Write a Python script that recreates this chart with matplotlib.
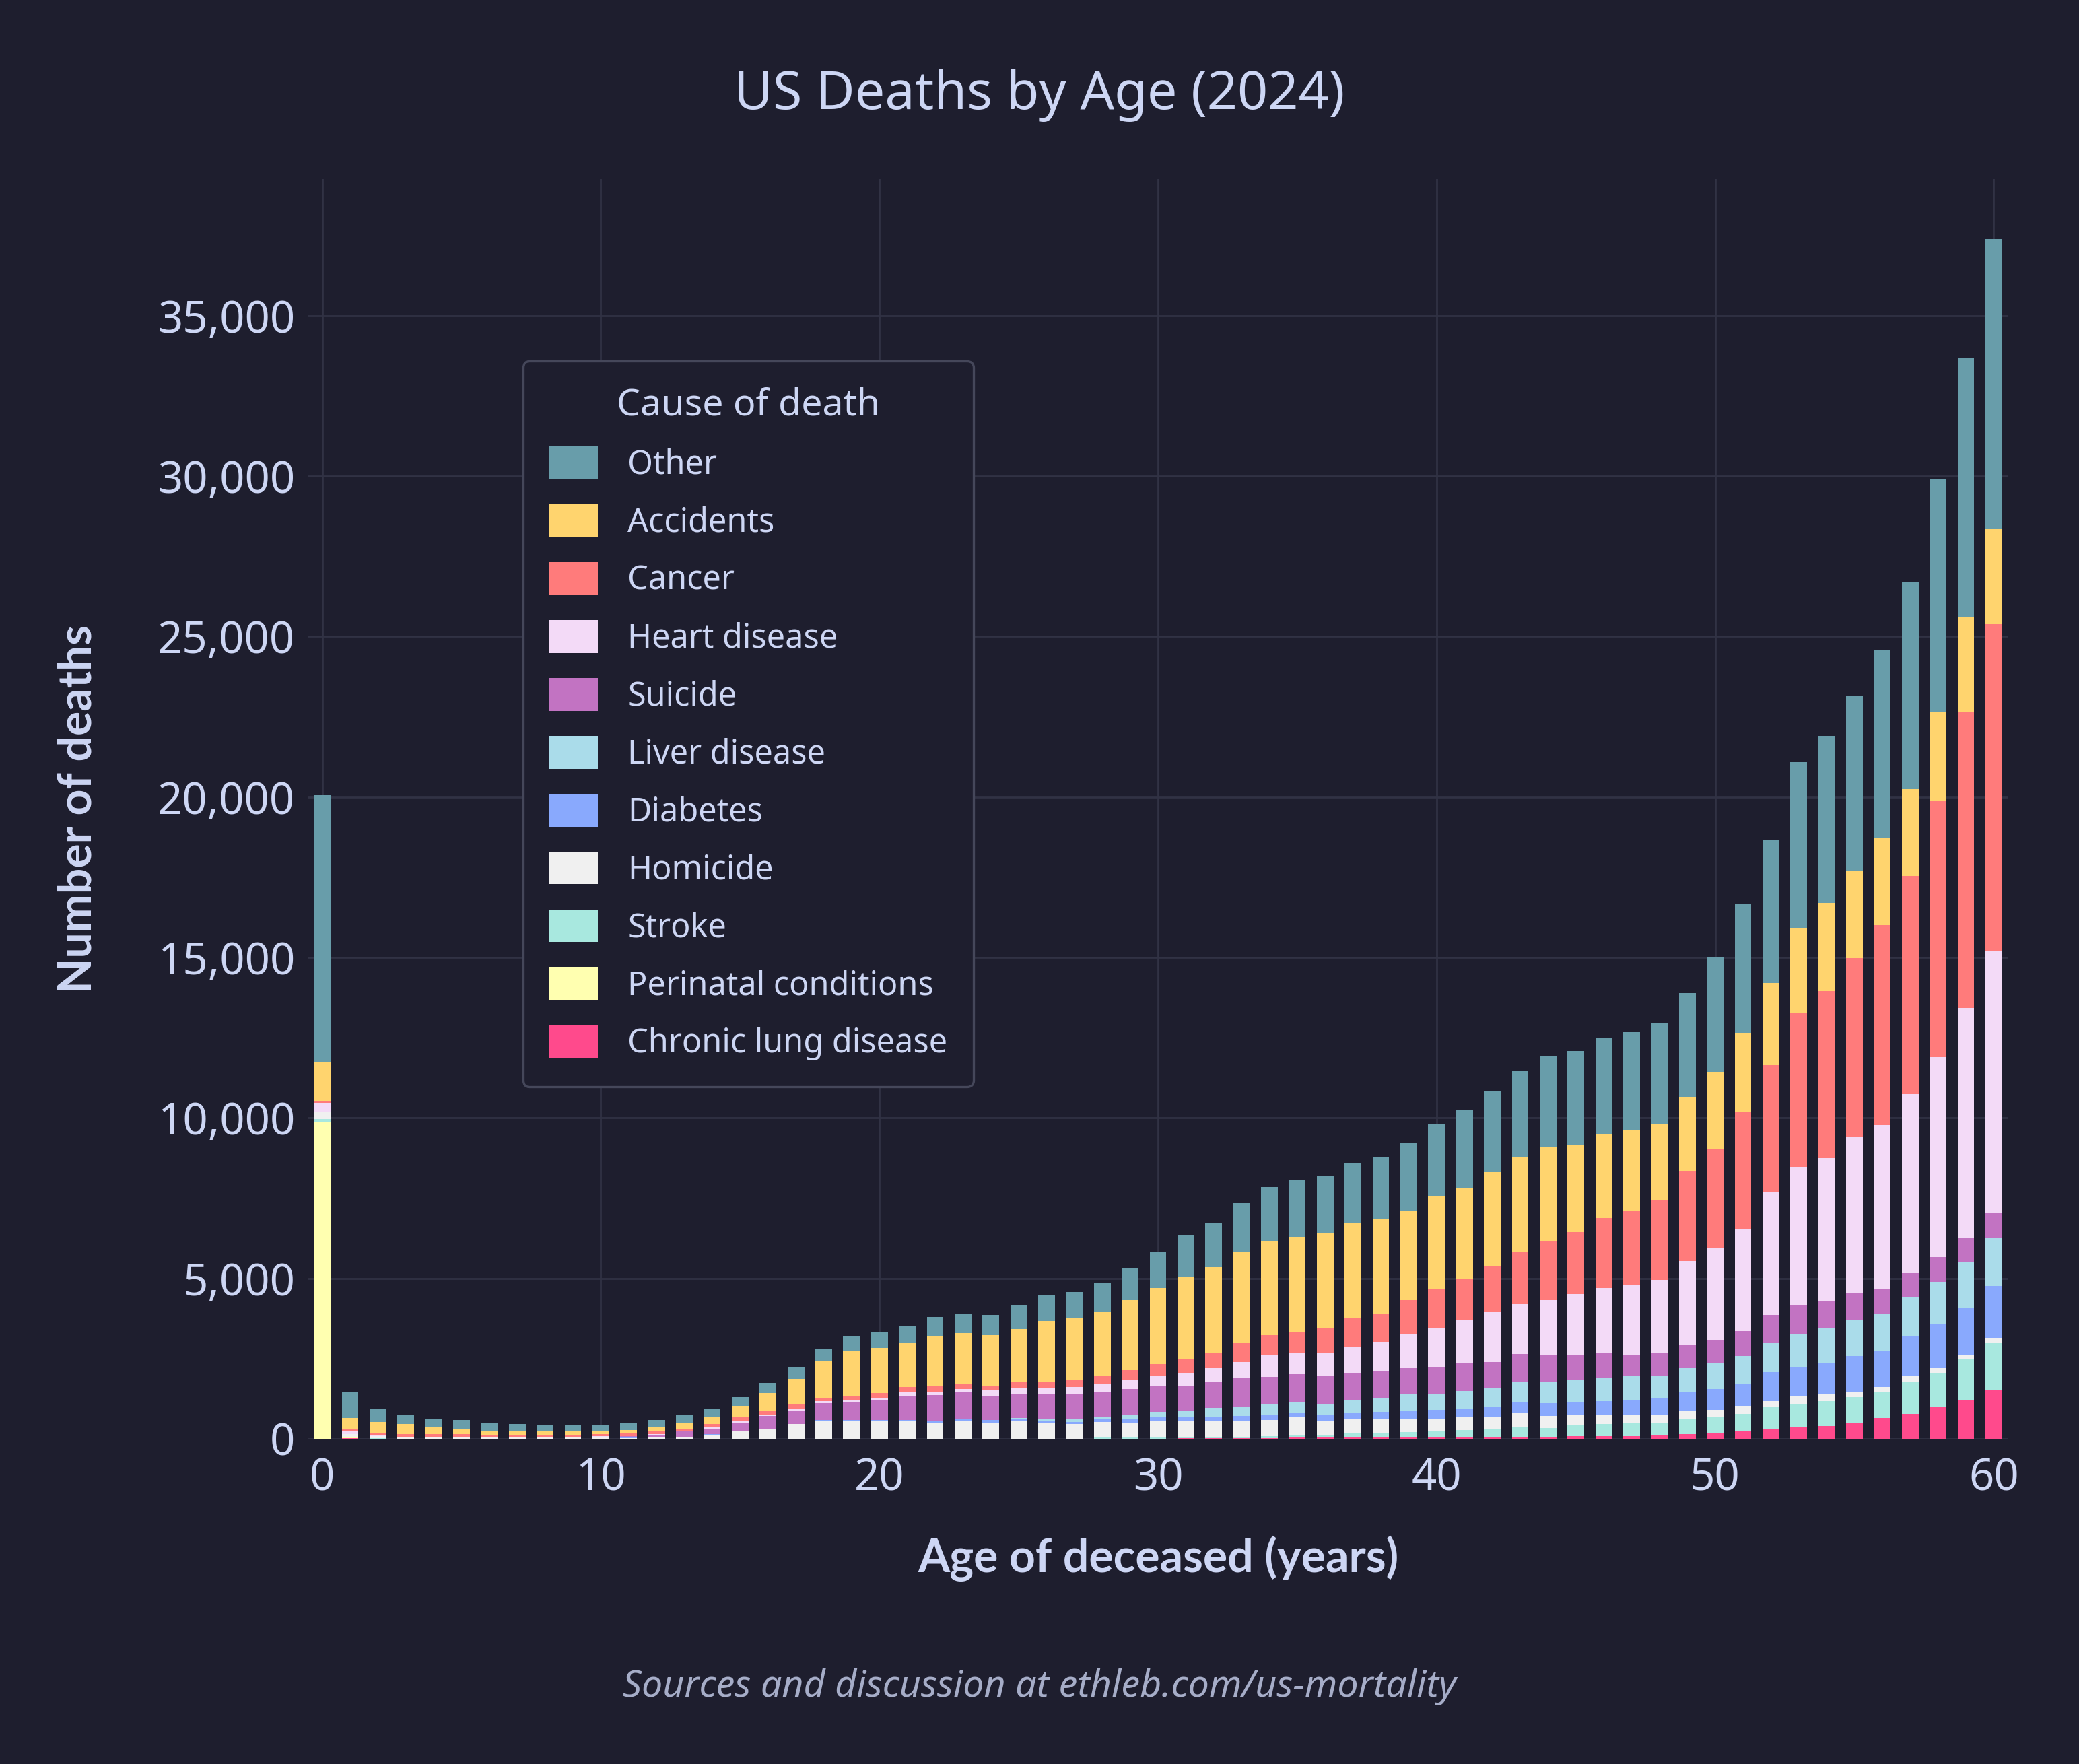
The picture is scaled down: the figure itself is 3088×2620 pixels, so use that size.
#!/usr/bin/env python3
import numpy as np
import matplotlib
matplotlib.use("Agg")
import matplotlib.pyplot as plt
import matplotlib.ticker as mtick

ages = list(range(61))

# deaths per single year of age
chronic_lung = [0, 10, 0, 0, 0, 0, 0, 0, 0, 0,
                0, 0, 0, 0, 0, 0, 0, 0, 0, 0,
                0, 0, 0, 0, 0, 0, 0, 0, 0, 0,
                0, 20, 20, 20, 20, 30, 30, 30, 40, 40,
                40, 40, 60, 60, 60, 90, 80, 80, 100, 150,
                180, 250, 300, 380, 400, 500, 650, 780, 980, 1200,
                1500]
perinatal = [9880, 20] + [0] * 59
stroke = [80, 20, 10, 0, 0, 0, 0, 0, 0, 0,
          0, 0, 0, 0, 0, 0, 0, 0, 0, 0,
          0, 0, 0, 0, 0, 0, 0, 0, 60, 40,
          40, 50, 50, 50, 70, 100, 100, 130, 130, 170,
          190, 230, 260, 300, 280, 340, 370, 400, 400, 450,
          520, 530, 680, 700, 780, 800, 800, 1000, 1050, 1280,
          1480]
homicide = [230, 100, 70, 40, 50, 30, 30, 30, 30, 30,
            30, 20, 40, 60, 120, 220, 320, 460, 560, 540,
            560, 540, 510, 560, 510, 540, 500, 460, 470, 470,
            500, 500, 500, 500, 500, 530, 410, 460, 450, 410,
            390, 390, 340, 430, 380, 310, 300, 250, 230, 250,
            200, 220, 200, 250, 200, 170, 170, 170, 180, 150,
            150]
diabetes = [0, 0, 0, 10, 0, 0, 0, 0, 0, 0,
            0, 20, 0, 0, 20, 0, 0, 0, 20, 40,
            20, 40, 40, 40, 80, 60, 60, 70, 70, 110,
            120, 100, 130, 150, 170, 140, 200, 180, 210, 230,
            270, 270, 330, 330, 380, 420, 430, 470, 520, 600,
            650, 700, 900, 900, 980, 1100, 1130, 1250, 1350, 1460,
            1630]
liver = [0, 0, 0, 0, 0, 0, 0, 0, 0, 0,
         0, 0, 0, 0, 0, 0, 0, 0, 10, 0,
         0, 0, 0, 0, 0, 40, 40, 70, 80, 120,
         170, 190, 270, 270, 310, 330, 330, 400, 430, 530,
         500, 560, 590, 640, 660, 670, 700, 750, 700, 760,
         810, 880, 900, 1050, 1100, 1130, 1150, 1230, 1330, 1420,
         1480]
suicide = [0, 0, 0, 0, 0, 0, 0, 0, 0, 0,
           40, 40, 90, 160, 180, 290, 390, 400, 520, 540,
           610, 770, 810, 840, 760, 740, 780, 780, 760, 800,
           820, 780, 820, 890, 860, 890, 890, 850, 860, 830,
           860, 860, 800, 880, 830, 780, 780, 680, 710, 720,
           720, 780, 880, 880, 830, 850, 780, 750, 780, 750,
           800]
heart = [270, 70, 30, 10, 10, 0, 0, 10, 10, 10,
         10, 10, 10, 20, 30, 50, 30, 60, 70, 90,
         80, 110, 110, 110, 150, 190, 190, 230, 260, 290,
         330, 400, 420, 510, 680, 670, 730, 820, 890, 1070,
         1220, 1330, 1570, 1560, 1740, 1890, 2030, 2180, 2280, 2610,
         2880, 3160, 3810, 4310, 4460, 4840, 5090, 5560, 6220, 7170,
         8170]
cancer = [50, 70, 60, 80, 80, 110, 80, 80, 80, 80,
          70, 70, 100, 80, 100, 120, 120, 150, 100, 120,
          150, 150, 170, 170, 150, 180, 220, 220, 270, 300,
          340, 440, 450, 590, 610, 650, 760, 900, 860, 1050,
          1210, 1280, 1450, 1620, 1830, 1930, 2180, 2310, 2480, 2810,
          3090, 3680, 3980, 4810, 5210, 5590, 6240, 6800, 8000, 9200,
          10180]
accidents = [1230, 350, 350, 320, 230, 180, 130, 120, 100, 100,
             100, 120, 130, 190, 250, 340, 560, 800, 1140, 1390,
             1400, 1390, 1540, 1580, 1570, 1660, 1880, 1940, 1970, 2180,
             2370, 2580, 2680, 2840, 2950, 2960, 2940, 2950, 2960, 2790,
             2880, 2850, 2920, 2960, 2940, 2720, 2630, 2500, 2380, 2280,
             2380, 2460, 2560, 2630, 2730, 2700, 2730, 2700, 2780, 2960,
             2980]
other = [8320, 800, 420, 290, 230, 260, 230, 220, 210, 210,
         190, 220, 210, 240, 230, 280, 320, 380, 360, 460,
         490, 520, 610, 610, 630, 740, 810, 800, 930, 990,
         1140, 1280, 1380, 1520, 1680, 1750, 1800, 1850, 1950, 2120,
         2230, 2420, 2500, 2670, 2810, 2930, 3010, 3060, 3160, 3250,
         3580, 4010, 4440, 5170, 5210, 5490, 5840, 6440, 7240, 8090,
         9020]

# bottom of the stack first
causes = ["Chronic lung disease", "Perinatal conditions", "Stroke", "Homicide",
          "Diabetes", "Liver disease", "Suicide", "Heart disease", "Cancer",
          "Accidents", "Other"]
series = [chronic_lung, perinatal, stroke, homicide, diabetes, liver,
          suicide, heart, cancer, accidents, other]
colors = ["#ff4a8c", "#ffffb0", "#a8e8df", "#f0f0f0", "#89a9fd", "#aadcea",
          "#c273c2", "#f3daf7", "#ff7b7b", "#ffd46e", "#689daa"]

BG = "#1e1e2e"
TEXT = "#cdd6f4"
GRID = "#313244"
BOLD_FONT = ['Lato', 'DejaVu Sans']


def main():
    plt.rcParams['font.family'] = ['Noto Sans', 'DejaVu Sans']
    fig = plt.figure(figsize=(15.44, 13.1), dpi=200, facecolor=BG)
    ax = fig.add_axes([0.1483, 0.1844, 0.8174, 0.7141], facecolor=BG)

    bottom = np.zeros(len(ages))
    handles = []
    for name, vals, col in zip(causes, series, colors):
        vals = np.array(vals, dtype=float)
        h = ax.bar(ages, vals, width=0.6, bottom=bottom, color=col,
                   label=name, zorder=2, linewidth=0)
        handles.append(h)
        bottom += vals

    ax.set_xlim(-0.5, 60.5)
    ax.set_ylim(0, bottom.max() * 1.05)
    ax.set_xticks(range(0, 61, 10))
    ax.set_yticks(range(0, 35001, 5000))
    ax.yaxis.set_major_formatter(mtick.StrMethodFormatter("{x:,.0f}"))
    ax.grid(True, color=GRID, linewidth=1.0, zorder=0)
    ax.set_axisbelow(True)
    for s in ax.spines.values():
        s.set_visible(False)
    ax.tick_params(axis='both', length=0, labelsize=23.5, labelcolor=TEXT)
    ax.tick_params(axis='x', pad=9.5)
    ax.tick_params(axis='y', pad=7)

    ax.set_xlabel("Age of deceased (years)", fontsize=24.5, fontweight='bold',
                  family=BOLD_FONT, color=TEXT, va='baseline')
    ax.xaxis.set_label_coords(0.5, -0.1058)
    ax.set_ylabel("Number of deaths", fontsize=24.5, fontweight='bold',
                  family=BOLD_FONT, color=TEXT, va='center')
    ax.yaxis.set_label_coords(-0.1355, 0.5)

    leg = ax.legend(handles[::-1], causes[::-1], title="Cause of death",
                    loc='upper left', bbox_to_anchor=(0.1166, 0.8686),
                    fontsize=17.5, title_fontsize=20, frameon=True,
                    fancybox=True, facecolor=BG, edgecolor="#45475a",
                    framealpha=1.0, borderpad=0.8, labelspacing=0.68,
                    handlelength=1.5, handleheight=1.17, handletextpad=0.9)
    leg.get_frame().set_linewidth(1.2)
    for t in leg.get_texts():
        t.set_color(TEXT)
    leg.get_title().set_color(TEXT)

    fig.text(0.5, 0.938, "US Deaths by Age (2024)", ha='center', va='baseline',
             fontsize=28.5, color=TEXT)
    fig.text(0.5, 0.038, "Sources and discussion at ethleb.com/us-mortality",
             ha='center', va='baseline', fontsize=20, style='italic',
             color="#a6adc8")

    fig.savefig("out.png", dpi=200, facecolor=BG)


if __name__ == '__main__':
    main()
